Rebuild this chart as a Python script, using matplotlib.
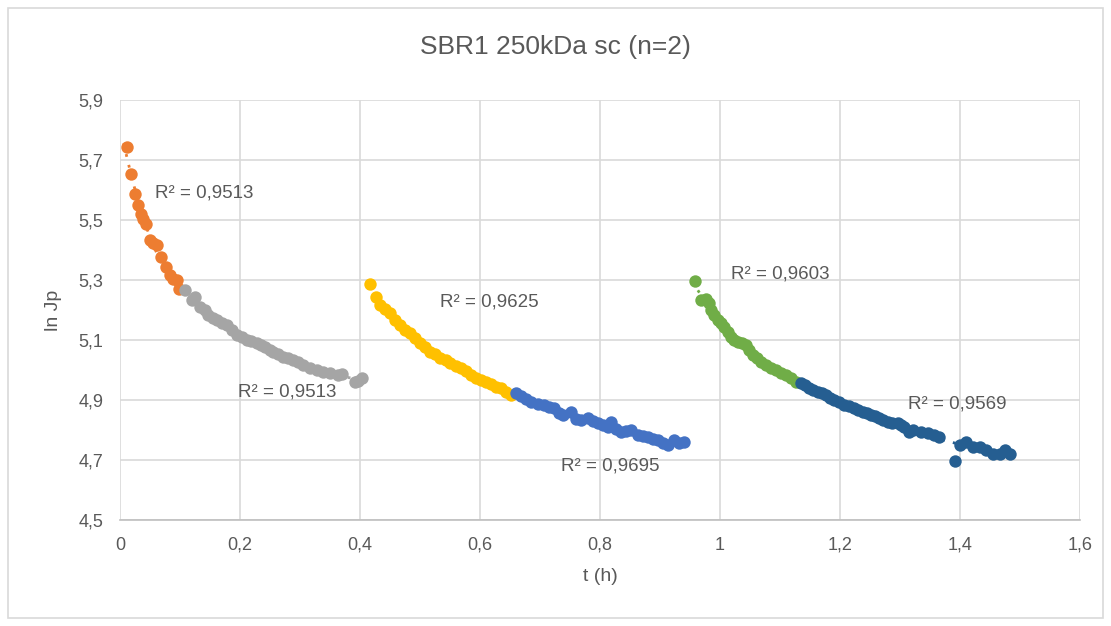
import matplotlib
matplotlib.use("Agg")
import matplotlib.pyplot as plt
from matplotlib.ticker import FuncFormatter
from matplotlib.patches import Rectangle
import numpy as np

plt.rcParams['font.family'] = ['Liberation Sans', 'DejaVu Sans']

# series data (t in h, ln Jp)
orange_t = [0.0112, 0.0179, 0.0250, 0.0300, 0.0346, 0.0384, 0.0429, 0.0501, 0.0551,
            0.0613, 0.0679, 0.0763, 0.0835, 0.0885, 0.0947, 0.0990]
orange_y = [5.744, 5.653, 5.586, 5.550, 5.520, 5.503, 5.487, 5.433, 5.423,
            5.417, 5.376, 5.344, 5.317, 5.303, 5.300, 5.272]

gray_t = [0.1085, 0.1197, 0.1252, 0.1336, 0.1419, 0.1469, 0.1553, 0.1614, 0.1703, 0.1781,
          0.1870, 0.1948, 0.2037, 0.2115, 0.2187, 0.2282, 0.2354, 0.2421, 0.2504, 0.2554,
          0.2638, 0.2721, 0.2805, 0.2888, 0.2972, 0.3055, 0.3172, 0.3289, 0.3389, 0.3506,
          0.3639, 0.3706, 0.3923, 0.3973, 0.4035]
gray_y = [5.267, 5.233, 5.243, 5.211, 5.200, 5.183, 5.173, 5.167, 5.157, 5.150,
          5.133, 5.117, 5.110, 5.100, 5.097, 5.090, 5.083, 5.078, 5.067, 5.061,
          5.053, 5.044, 5.040, 5.033, 5.027, 5.017, 5.007, 5.000, 4.994, 4.990,
          4.983, 4.987, 4.960, 4.964, 4.973]

yellow_t = [0.4174, 0.4274, 0.4341, 0.4424, 0.4508, 0.4591, 0.4674, 0.4758, 0.4841, 0.4925,
            0.5008, 0.5092, 0.5175, 0.5259, 0.5342, 0.5426, 0.5509, 0.5593, 0.5676, 0.5760,
            0.5843, 0.5927, 0.6010, 0.6093, 0.6177, 0.6260, 0.6344, 0.6427, 0.6511]
yellow_y = [5.287, 5.243, 5.217, 5.203, 5.190, 5.167, 5.150, 5.133, 5.123, 5.107,
            5.090, 5.077, 5.060, 5.053, 5.040, 5.033, 5.023, 5.013, 5.007, 4.997,
            4.983, 4.973, 4.967, 4.960, 4.953, 4.943, 4.940, 4.927, 4.917]

blue_t = [0.6594, 0.6678, 0.6761, 0.6845, 0.6962, 0.7062, 0.7145, 0.7229, 0.7312, 0.7379,
          0.7513, 0.7596, 0.7679, 0.7796, 0.7880, 0.7963, 0.8047, 0.8130, 0.8180, 0.8264,
          0.8347, 0.8431, 0.8514, 0.8631, 0.8715, 0.8798, 0.8881, 0.8965, 0.9048, 0.9132,
          0.9232, 0.9316, 0.9399]
blue_y = [4.923, 4.913, 4.903, 4.893, 4.887, 4.883, 4.877, 4.873, 4.857, 4.850,
          4.860, 4.837, 4.833, 4.840, 4.830, 4.823, 4.817, 4.810, 4.827, 4.803,
          4.793, 4.797, 4.800, 4.783, 4.780, 4.777, 4.770, 4.767, 4.757, 4.750,
          4.767, 4.757, 4.760]

green_t = [0.9583, 0.9683, 0.9766, 0.9816, 0.9850, 0.9900, 0.9962, 1.0017, 1.0067, 1.0134,
           1.0184, 1.0234, 1.0295, 1.0367, 1.0434, 1.0484, 1.0546, 1.0618, 1.0684, 1.0768,
           1.0851, 1.0935, 1.1018, 1.1102, 1.1185, 1.1269]
green_y = [5.298, 5.233, 5.237, 5.223, 5.200, 5.183, 5.167, 5.157, 5.144, 5.127,
           5.111, 5.100, 5.094, 5.090, 5.083, 5.067, 5.050, 5.040, 5.028, 5.017,
           5.007, 5.000, 4.990, 4.983, 4.973, 4.961]

navy_t = [1.1352, 1.1419, 1.1486, 1.1553, 1.1631, 1.1703, 1.1770, 1.1836, 1.1903, 1.1987,
          1.2070, 1.2154, 1.2237, 1.2304, 1.2382, 1.2454, 1.2521, 1.2588, 1.2654, 1.2721,
          1.2800, 1.2871, 1.2966, 1.3022, 1.3072, 1.3155, 1.3222, 1.3356, 1.3467, 1.3573,
          1.3656, 1.3912, 1.3995, 1.4107, 1.4219, 1.4329, 1.4441, 1.4553, 1.4663, 1.4746,
          1.4830]
navy_y = [4.957, 4.950, 4.940, 4.933, 4.928, 4.923, 4.917, 4.907, 4.900, 4.893,
          4.883, 4.880, 4.873, 4.867, 4.861, 4.857, 4.850, 4.847, 4.840, 4.833,
          4.828, 4.823, 4.823, 4.817, 4.811, 4.794, 4.800, 4.794, 4.789, 4.783,
          4.778, 4.697, 4.750, 4.761, 4.744, 4.744, 4.733, 4.722, 4.722, 4.733,
          4.720]

r2_labels = ['0,9513', '0,9513', '0,9625', '0,9695', '0,9603', '0,9569']
label_t = [0.058, 0.197, 0.534, 0.735, 1.018, 1.314]
label_y = [5.59, 4.927, 5.227, 4.68, 5.32, 4.887]

x_ticks = [0, 0.2, 0.4, 0.6, 0.8, 1.0, 1.2, 1.4, 1.6]
y_ticks = [4.5, 4.7, 4.9, 5.1, 5.3, 5.5, 5.7, 5.9]

series = [
    (orange_t, orange_y, '#ED7D31'),
    (gray_t, gray_y, '#A5A5A5'),
    (yellow_t, yellow_y, '#FFC000'),
    (blue_t, blue_y, '#4472C4'),
    (green_t, green_y, '#70AD47'),
    (navy_t, navy_y, '#255E91'),
]

fig = plt.figure(figsize=(11.11, 6.26), dpi=100)
ax = fig.add_axes([0.108, 0.169, 0.864, 0.671])

for t, y, c in series:
    t = np.array(t)
    y = np.array(y)
    ax.scatter(t, y, s=80, color=c, zorder=3, linewidths=0)
    # trendline
    p = np.polyfit(t, y, 2)
    tt = np.linspace(t.min() - 0.005, t.max(), 100)
    ax.plot(tt, np.polyval(p, tt), linestyle=(0, (1, 3)), color=c, lw=2, zorder=2)

for txt, lt, ly in zip(r2_labels, label_t, label_y):
    ax.text(lt, ly, 'R² = ' + txt, fontsize=13.5, color='#595959', ha='left', va='center', zorder=4)

ax.set_xlim(0, 1.6)
ax.set_ylim(4.5, 5.9)
ax.set_xticks(x_ticks)
ax.set_yticks(y_ticks)
ax.xaxis.set_major_formatter(FuncFormatter(lambda v, p: f'{v:g}'.replace('.', ',')))
ax.yaxis.set_major_formatter(FuncFormatter(lambda v, p: f'{v:.1f}'.replace('.', ',')))
ax.grid(True, color='#D9D9D9', lw=1.2, zorder=0)
ax.set_axisbelow(True)
for s in ['top', 'right', 'left']:
    ax.spines[s].set_visible(False)
ax.spines['bottom'].set_color('#BFBFBF')
ax.spines['bottom'].set_linewidth(1.2)
ax.tick_params(length=0, labelsize=13, labelcolor='#595959', pad=12)

ax.set_xlabel('t (h)', fontsize=14, color='#595959', labelpad=10)
ax.set_ylabel('ln Jp', fontsize=14, color='#595959', labelpad=12)
fig.text(0.5, 0.925, 'SBR1 250kDa sc (n=2)', fontsize=19, color='#595959', ha='center', va='center')

fig.patches.append(Rectangle((0.007, 0.013), 0.986, 0.974, transform=fig.transFigure,
                             fill=False, edgecolor='#D9D9D9', lw=1.2))

fig.savefig('out.png', dpi=100)
